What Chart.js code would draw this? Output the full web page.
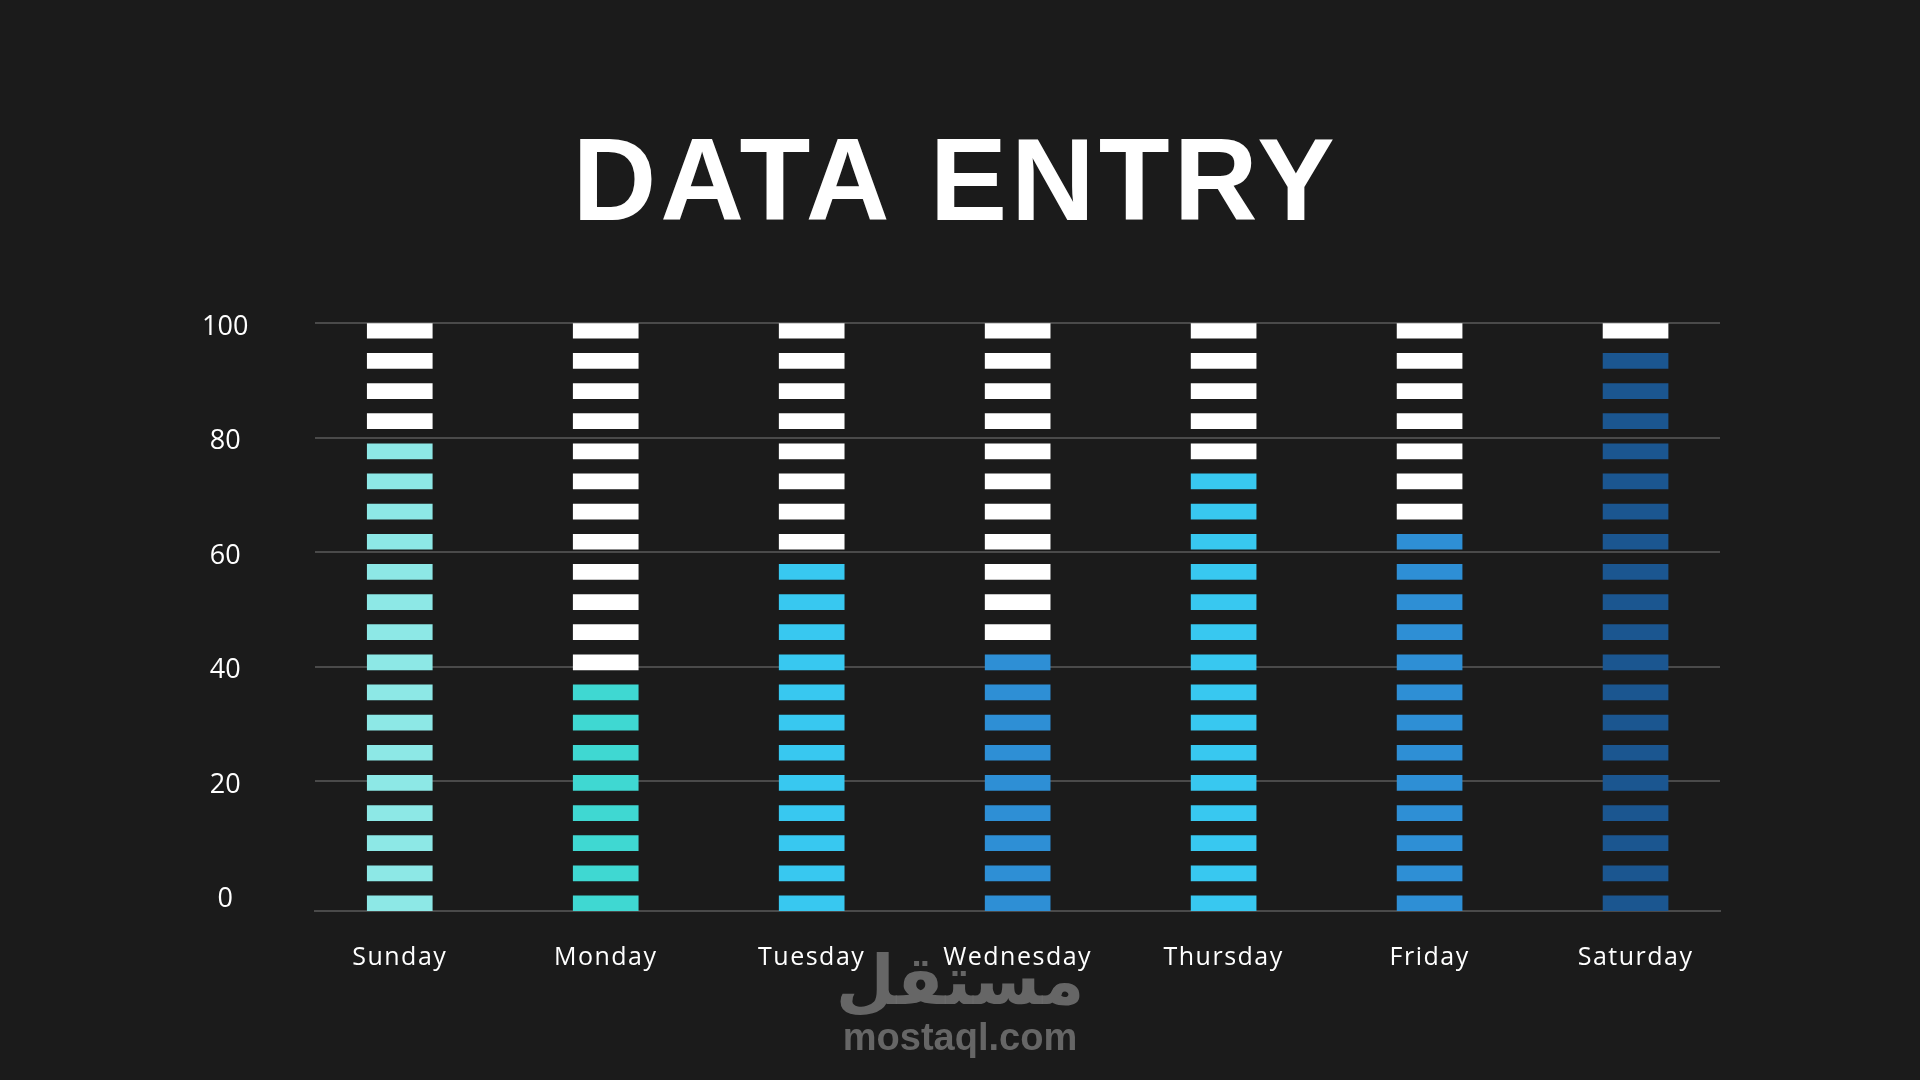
<!DOCTYPE html>
<html>
<head>
<meta charset="utf-8">
<script src="https://cdn.jsdelivr.net/npm/chart.js@4.4.1/dist/chart.umd.min.js"></script>
<style>
  html, body { margin: 0; padding: 0; background: #1b1b1b; }
  #wrap { width: 1920px; height: 1080px; }
  canvas { display: block; }
</style>
</head>
<body>
<div id="wrap"><canvas id="c" width="1920" height="1080" style="width:1920px;height:1080px"></canvas></div>
<script>
// ---- data ----
const days = ['Sunday', 'Monday', 'Tuesday', 'Wednesday', 'Thursday', 'Friday', 'Saturday'];
const values = [80, 40, 60, 45, 75, 65, 95];
const dayColors = ['#8de8e6', '#3fd8d2', '#38c8f0', '#2e8fd5', '#38c8f0', '#2e8fd5', '#1b5690'];
const restColor = '#ffffff';
const yTicks = [0, 20, 40, 60, 80, 100];
// each column is 20 segments of 5 units
const segmentStarts = [0, 5, 10, 15, 20, 25, 30, 35, 40, 45, 50, 55, 60, 65, 70, 75, 80, 85, 90, 95];
const SEGMENT_FILL = 2.5; // filled part of each 5-unit step

const gridColor = '#4a4a4a';

const datasets = segmentStarts.map(function (s) {
  return {
    data: days.map(function (d, i) { return { x: i, y: [s, s + SEGMENT_FILL] }; }),
    backgroundColor: days.map(function (d, i) { return s < values[i] ? dayColors[i] : restColor; }),
    borderWidth: 0,
    borderSkipped: false,
    grouped: false,
    barThickness: 65,
    xAxisID: 'x',
    yAxisID: 'ySeg'
  };
});

function wrapDraw(obj, method, flag, fn) {
  if (!obj || obj[flag]) return;
  const orig = obj[method];
  obj[method] = function () {
    const ctx = this.ctx;
    ctx.save();
    fn(ctx);
    orig.apply(this, arguments);
    ctx.restore();
  };
  obj[flag] = true;
}

const textTweaks = {
  id: 'textTweaks',
  afterUpdate(chart) {
    wrapDraw(chart.scales.x, 'drawLabels', '__tw', function (ctx) { ctx.letterSpacing = '1.5px'; });
    wrapDraw(chart.scales.y, 'drawLabels', '__tw', function (ctx) { ctx.translate(0, 4); });
    wrapDraw(chart.titleBlock, 'draw', '__tw', function (ctx) { ctx.letterSpacing = '4px'; ctx.translate(28, 0); });
  }
};

const watermark = {
  id: 'watermark',
  afterDraw(chart) {
    const ctx = chart.ctx;
    ctx.save();
    ctx.fillStyle = 'rgba(108,108,108,0.92)';
    ctx.textAlign = 'center';
    ctx.textBaseline = 'alphabetic';
    ctx.font = 'bold 68px "DejaVu Sans"';
    ctx.fillText('مستقل', 960, 1004);
    ctx.font = 'bold 38px "Liberation Sans"';
    ctx.fillText('mostaql.com', 960, 1050);
    ctx.restore();
  }
};

new Chart(document.getElementById('c'), {
  type: 'bar',
  data: { datasets: datasets },
  options: {
    responsive: false,
    animation: false,
    devicePixelRatio: 1,
    layout: { padding: { left: 135, right: 200, top: 0, bottom: 75 } },
    plugins: {
      legend: { display: false },
      tooltip: { enabled: false },
      title: {
        display: true,
        text: 'DATA ENTRY',
        color: '#ffffff',
        font: { family: '"Liberation Sans", Arial, sans-serif', weight: 'bold', size: 116, lineHeight: 1.2 },
        padding: { top: 118, bottom: 66 }
      }
    },
    scales: {
      x: {
        type: 'linear',
        bounds: 'data',
        offset: false,
        min: -0.41,
        max: 6.41,
        afterBuildTicks: function (s) { s.ticks = days.map(function (d, i) { return { value: i }; }); },
        ticks: {
          callback: function (v) { return days[v]; },
          color: '#ffffff',
          font: { family: '"Open Sans", sans-serif', size: 25 },
          padding: 32,
          autoSkip: false,
          maxRotation: 0
        },
        grid: { display: false, drawTicks: false },
        border: { display: true, color: gridColor, width: 2 }
      },
      y: {
        position: 'left',
        bounds: 'data',
        min: -2.7,
        max: 100,
        afterBuildTicks: function (s) { s.ticks = yTicks.map(function (v) { return { value: v }; }); },
        ticks: {
          color: '#ffffff',
          crossAlign: 'center',
          padding: 67,
          font: { family: '"Open Sans", sans-serif', size: 27 }
        },
        grid: {
          color: function (c) { return (c.tick && c.tick.value === 0) ? 'rgba(0,0,0,0)' : gridColor; },
          lineWidth: 2,
          drawTicks: false
        },
        border: { display: false }
      },
      ySeg: {
        display: false,
        bounds: 'data',
        min: 0,
        max: 97.5
      }
    }
  },
  plugins: [textTweaks, watermark]
});
</script>
</body>
</html>
